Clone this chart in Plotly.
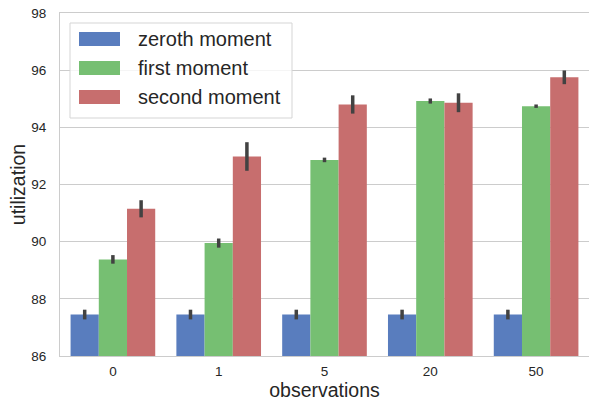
import plotly.graph_objects as go

categories = ["0", "1", "5", "20", "50"]
series_names = ["zeroth moment", "first moment", "second moment"]
zeroth = [87.45, 87.45, 87.45, 87.45, 87.45]
first = [89.38, 89.95, 92.86, 94.92, 94.74]
second = [91.15, 92.98, 94.80, 94.86, 95.75]
zeroth_err = [0.17, 0.17, 0.17, 0.17, 0.17]
first_err = [0.15, 0.16, 0.08, 0.09, 0.06]
second_err = [0.3, 0.5, 0.32, 0.33, 0.24]
colors = ["#597DBE", "#76BF72", "#C76E6E"]

W, H = 589, 403
L, R, T, B = 60, 0, 13, 47
pw, ph = W - L - R, H - T - B

def px_x(x):
    return (x - L) / pw

def px_y(y):
    return 1 - (y - T) / ph

fig = go.Figure()
for name, vals, errs, col in zip(series_names, [zeroth, first, second],
                                 [zeroth_err, first_err, second_err], colors):
    fig.add_trace(go.Bar(
        x=categories, y=vals, name=name, marker_color=col,
        marker_line_width=0,
        error_y=dict(type="data", array=errs, visible=True, color="#424242",
                     thickness=3.5, width=0),
        showlegend=False,
    ))

# custom legend (matplotlib style)
shapes = [dict(type="rect", xref="paper", yref="paper",
               x0=px_x(70), x1=px_x(292), y0=px_y(118), y1=px_y(23),
               line=dict(color="#D5D5D5", width=1), fillcolor="rgba(255,255,255,0.8)",
               layer="above")]
annotations = []
row_y = [39, 68, 97]
for name, col, yc in zip(series_names, colors, row_y):
    shapes.append(dict(type="rect", xref="paper", yref="paper",
                       x0=px_x(79), x1=px_x(120), y0=px_y(yc + 7), y1=px_y(yc - 7),
                       line=dict(width=0), fillcolor=col, layer="above"))
    annotations.append(dict(xref="paper", yref="paper", x=px_x(136), y=px_y(yc),
                            text=name, showarrow=False, xanchor="left", yanchor="middle",
                            font=dict(size=20, color="#262626")))

fig.update_layout(
    width=W, height=H,
    margin=dict(l=L, r=R, t=T, b=B),
    paper_bgcolor="white", plot_bgcolor="white",
    barmode="group", bargap=0.2, bargroupgap=0,
    font=dict(family="Liberation Sans, Arial, sans-serif", color="#262626"),
    shapes=shapes, annotations=annotations,
    xaxis=dict(
        title=dict(text="observations", font=dict(size=19.5), standoff=2),
        tickfont=dict(size=13.5),
        showgrid=False, showline=True, linecolor="#CCCCCC", linewidth=1.2,
        mirror=True, ticks="", ticklabelstandoff=3,
    ),
    yaxis=dict(
        title=dict(text="utilization", font=dict(size=19.5), standoff=0),
        range=[86, 98], dtick=2, tickfont=dict(size=13.5),
        showgrid=True, gridcolor="#CCCCCC", gridwidth=1.2,
        showline=True, linecolor="#CCCCCC", linewidth=1.2, mirror=True,
        ticks="", ticklabelstandoff=10, zeroline=False,
    ),
)

fig.write_html(
    "out.html",
    config={"displayModeBar": False},
    post_script="document.body.style.margin='0px';document.body.style.overflow='hidden';",
)
